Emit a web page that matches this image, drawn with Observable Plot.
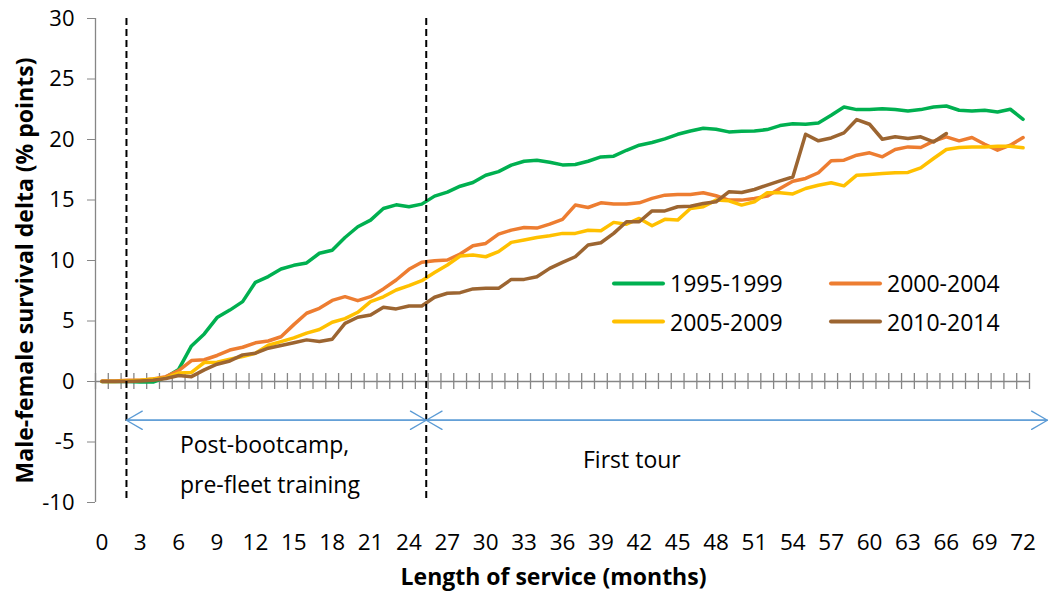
<!DOCTYPE html>
<html>
<head>
<meta charset="utf-8">
<script src="https://cdn.jsdelivr.net/npm/d3@7"></script>
<script src="https://cdn.jsdelivr.net/npm/@observablehq/plot@0.6"></script>
<style>
  html, body { margin: 0; padding: 0; background: #fff; }
  #wrap { position: relative; width: 1049px; height: 595px; font-family: "Open Sans", sans-serif; }
  .leg { position: absolute; display: flex; align-items: center; transform: translateY(-50%); font-size: 23px; line-height: 1; color: #000; white-space: nowrap; }
  .leg .sw { display: inline-block; width: 53px; height: 4px; margin-right: 5px; border-radius: 2px; }
</style>
</head>
<body>
<div id="wrap"></div>
<script>
// ---- data ----
const months = d3.range(0, 73);
const seriesNames = ["1995-1999", "2000-2004", "2005-2009", "2010-2014"];
const seriesColors = ["#00B050", "#ED7D31", "#FFC000", "#9C6531"];

const s1995 = [0, 0, 0, -0.05, -0.05, 0.35, 1.0, 2.94, 3.93, 5.28, 5.9, 6.6, 8.2, 8.67, 9.3, 9.6, 9.8, 10.6, 10.85,
  11.9, 12.79, 13.34, 14.3, 14.6, 14.44, 14.66, 15.32, 15.65, 16.14, 16.45, 17.05, 17.35, 17.88, 18.2, 18.29, 18.12,
  17.9, 17.93, 18.2, 18.56, 18.62, 19.11, 19.53, 19.75, 20.05, 20.43, 20.7, 20.93, 20.85, 20.63, 20.68, 20.71, 20.82,
  21.15, 21.3, 21.26, 21.37, 22.0, 22.69, 22.47, 22.47, 22.55, 22.47, 22.36, 22.47, 22.69, 22.77, 22.42, 22.36, 22.42,
  22.28, 22.5, 21.67];
const s2000 = [0.05, 0.05, 0.1, 0.1, 0.2, 0.4, 0.9, 1.73, 1.8, 2.15, 2.6, 2.83, 3.2, 3.35, 3.7, 4.7, 5.64, 6.05, 6.7,
  7.01, 6.68, 7.01, 7.65, 8.39, 9.27, 9.85, 9.98, 10.04, 10.53, 11.22, 11.41, 12.18, 12.51, 12.73, 12.68, 13.0, 13.4,
  14.58, 14.38, 14.77, 14.66, 14.66, 14.77, 15.13, 15.4, 15.46, 15.46, 15.6, 15.35, 14.99, 14.99, 15.13, 15.32, 15.95,
  16.55, 16.78, 17.25, 18.24, 18.29, 18.7, 18.9, 18.57, 19.17, 19.39, 19.34, 19.86, 20.22, 19.89, 20.16, 19.61, 19.12,
  19.53, 20.16];
const s2005 = [0, 0, 0.05, 0.1, 0.2, 0.3, 0.7, 0.75, 1.57, 1.6, 1.85, 2.06, 2.34, 3.0, 3.3, 3.6, 4.0, 4.3, 4.9,
  5.2, 5.72, 6.6, 7.0, 7.56, 7.92, 8.33, 9.0, 9.63, 10.37, 10.45, 10.31, 10.73, 11.5, 11.69, 11.9, 12.05, 12.24,
  12.24, 12.5, 12.46, 13.15, 13.0, 13.48, 12.87, 13.4, 13.34, 14.3, 14.44, 14.99, 14.93, 14.58, 14.85, 15.6, 15.6,
  15.5, 15.95, 16.22, 16.42, 16.17, 17.05, 17.11, 17.19, 17.25, 17.28, 17.66, 18.43, 19.17, 19.34, 19.39, 19.39,
  19.45, 19.45, 19.31];
const s2010 = [0, 0, 0, 0.05, 0.1, 0.25, 0.5, 0.4, 0.96, 1.43, 1.7, 2.2, 2.34, 2.75, 2.97, 3.2, 3.44, 3.3, 3.49,
  4.81, 5.31, 5.5, 6.13, 6.0, 6.24, 6.24, 6.96, 7.29, 7.34, 7.65, 7.7, 7.7, 8.44, 8.44, 8.66, 9.35, 9.85,
  10.31, 11.28, 11.47, 12.24, 13.2, 13.2, 14.1, 14.1, 14.44, 14.49, 14.71, 14.85, 15.68, 15.62, 15.87, 16.23, 16.58,
  16.9, 20.43, 19.89, 20.13, 20.55, 21.65, 21.26, 20.02, 20.22, 20.08, 20.22, 19.8, 20.49];
const seriesValues = [s1995, s2000, s2005, s2010];

const yTicks = [-10, -5, 0, 5, 10, 15, 20, 25, 30];
const xTickLabels = d3.range(0, 73, 3);
const categoryBounds = d3.range(-0.5, 73, 1);

// phases (vertical dashed markers and arrows)
const phaseBounds = [1.92, 25.35];
const phaseStart = [1.92, 25.35];
const phaseEnd = [25.35, 73.9];
const arrowLevel = -3.2;
const noteText = ["Post-bootcamp,", "pre-fleet training", "First tour"];
const noteX = [6.1, 6.1, 37.6];
const noteY = [-5.3, -8.6, -6.5];

const xTitle = "Length of service (months)";
const yTitle = "Male-female survival delta (% points)";

// ---- build ----
const rows = [];
seriesNames.forEach((name, i) => {
  seriesValues[i].forEach((v, m) => rows.push({month: months[m], value: v, series: name}));
});
const phases = phaseStart.map((s, i) => ({start: s, end: phaseEnd[i]}));
const notes = noteText.map((t, i) => ({text: t, x: noteX[i], y: noteY[i]}));

const axisGrey = "#868686";
const font = "'Open Sans', sans-serif";

const chart = Plot.plot({
  width: 1049,
  height: 595,
  marginLeft: 95,
  marginRight: 20,
  marginTop: 18,
  marginBottom: 93,
  x: {domain: [-0.5, 72.5], axis: null},
  y: {domain: [-10, 30], axis: null},
  color: {domain: seriesNames, range: seriesColors},
  style: {fontFamily: font, background: "#fff", color: "#000", overflow: "visible"},
  marks: [
    // y axis line + ticks + labels
    Plot.ruleX([-0.5], {stroke: axisGrey, strokeWidth: 1.3}),
    Plot.axisY(yTicks, {tickSize: 8, tickPadding: 13, fontSize: 22, stroke: axisGrey, fill: "#000", label: null, tickFormat: d => String(d)}),
    // category axis at zero
    Plot.ruleY([0], {stroke: axisGrey, strokeWidth: 1.3}),
    Plot.ruleX(categoryBounds, {x: d => d, y1: 0, y2: 0, insetTop: -8, insetBottom: -8, stroke: axisGrey, strokeWidth: 1.3}),
    Plot.text(xTickLabels, {x: d => d, text: d => String(d), frameAnchor: "bottom", dy: 47, fontSize: 22.5, fill: "#000"}),
    // series
    Plot.line(rows, {x: "month", y: "value", z: "series", stroke: "series", strokeWidth: 3.5, strokeLinejoin: "round", strokeLinecap: "round"}),
    // phase markers
    Plot.ruleX(phaseBounds, {x: d => d, stroke: "#000", strokeWidth: 2, strokeDasharray: "7,4"}),
    Plot.arrow(phases, {x1: "start", x2: "end", y1: arrowLevel, y2: arrowLevel, stroke: "#5B9BD5", strokeWidth: 1.3, headLength: 21, headAngle: 60}),
    Plot.arrow(phases, {x1: "end", x2: "start", y1: arrowLevel, y2: arrowLevel, stroke: "#5B9BD5", strokeWidth: 1.3, headLength: 21, headAngle: 60}),
    Plot.text(notes, {x: "x", y: "y", text: "text", textAnchor: "start", fontSize: 23, fill: "#000"}),
    // axis titles
    Plot.text([xTitle], {frameAnchor: "bottom", dy: 82, dx: -9, fontSize: 23, fontWeight: "bold", fill: "#000"}),
    Plot.text([yTitle], {frameAnchor: "left", textAnchor: "middle", dx: -70, dy: 10, rotate: -90, fontSize: 23, fontWeight: "bold", fill: "#000"})
  ]
});

const wrap = document.getElementById("wrap");
wrap.appendChild(chart);

// in-plot legend (2 x 2)
seriesNames.forEach((name, i) => {
  const col = i % 2, row = Math.floor(i / 2);
  const item = document.createElement("div");
  item.className = "leg";
  item.style.left = (612 + col * 217) + "px";
  item.style.top = (283 + row * 38.5) + "px";
  const sw = document.createElement("span");
  sw.className = "sw";
  sw.style.background = seriesColors[i];
  const label = document.createElement("span");
  label.textContent = name;
  item.appendChild(sw);
  item.appendChild(label);
  wrap.appendChild(item);
});
</script>
</body>
</html>
